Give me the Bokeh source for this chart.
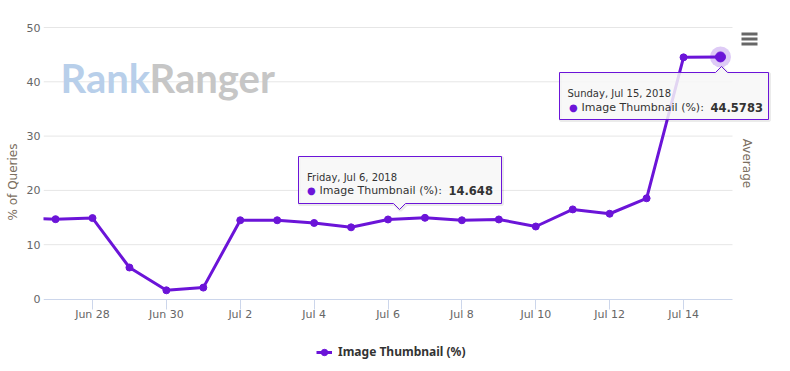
import math
import pandas as pd
from bokeh.plotting import figure
from bokeh.models import Range1d, FixedTicker, Label, Legend, LegendItem, ColumnDataSource
from bokeh.embed import file_html
from bokeh.resources import INLINE

# ---------------- data ----------------
dates = ["2018-06-26", "2018-06-27", "2018-06-28", "2018-06-29", "2018-06-30",
         "2018-07-01", "2018-07-02", "2018-07-03", "2018-07-04", "2018-07-05",
         "2018-07-06", "2018-07-07", "2018-07-08", "2018-07-09", "2018-07-10",
         "2018-07-11", "2018-07-12", "2018-07-13", "2018-07-14", "2018-07-15"]
values = [14.9, 14.7, 14.9, 5.8, 1.6, 2.1, 14.5, 14.5, 14.0, 13.2,
          14.648, 14.95, 14.5, 14.65, 13.35, 16.5, 15.7, 18.55, 44.5, 44.5783]
series_name = "Image Thumbnail (%)"
x_tick_labels = ["Jun 28", "Jun 30", "Jul 2", "Jul 4", "Jul 6", "Jul 8", "Jul 10", "Jul 12", "Jul 14"]
y_ticks = [0, 10, 20, 30, 40, 50]
y_title = "% of Queries"
right_title = "Average"
tooltip_dates = ["Friday, Jul 6, 2018", "Sunday, Jul 15, 2018"]
tooltip_values = ["14.648", "44.5783"]

# ---------------- styles / layout ----------------
COLOR = "#6b14d8"
FONT = "DejaVu Sans"
W, H = 782, 363

# picture pixel -> data helpers (layout only)
PX_PER_DAY = 36.94
PX_DAY0 = 92 - 2 * PX_PER_DAY
PX_PER_UNIT = 5.43
PY_ZERO = 298.5


def dx(px):
    return (px - PX_DAY0) / PX_PER_DAY


def dy(py):
    return (PY_ZERO - py) / PX_PER_UNIT


dts = pd.to_datetime(dates)
xs = list(range(len(dts)))
lbl = [f"{d:%b} {d.day}" for d in dts]
tick_pos = [i for i, s in enumerate(lbl) if s in x_tick_labels]
overrides = {i: lbl[i] for i in tick_pos}

plot_left_px, plot_right_px = 43, 732

p = figure(width=W, height=H, output_backend="svg", toolbar_location=None,
           x_range=Range1d(dx(plot_left_px), dx(W)), y_range=Range1d(dy(H), dy(0)),
           min_border_left=plot_left_px, min_border_right=0,
           min_border_top=0, min_border_bottom=0)
p.outline_line_color = None
p.background_fill_color = "white"
p.border_fill_color = "white"
p.xgrid.visible = False
p.ygrid.visible = False

# x axis, drawn at y = 0
xa = p.xaxis[0]
xa.fixed_location = 0
xa.ticker = FixedTicker(ticks=tick_pos)
xa.major_label_overrides = overrides
xa.bounds = (dx(plot_left_px), dx(plot_right_px))
xa.axis_line_color = "#ccd6eb"
xa.major_tick_line_color = "#ccd6eb"
xa.major_tick_out = 10
xa.major_tick_in = 0
xa.minor_tick_line_color = None
xa.major_label_standoff = -1
xa.major_label_text_font = FONT
xa.major_label_text_font_size = "11px"
xa.major_label_text_color = "#666666"

# y axis
ya = p.yaxis[0]
ya.ticker = FixedTicker(ticks=y_ticks)
ya.bounds = (y_ticks[0], y_ticks[-1])
ya.axis_line_color = None
ya.major_tick_line_color = None
ya.major_tick_out = 0
ya.major_tick_in = 0
ya.minor_tick_line_color = None
ya.minor_tick_out = 0
ya.major_label_standoff = 3
ya.major_label_text_font = FONT
ya.major_label_text_font_size = "11px"
ya.major_label_text_color = "#666666"
ya.axis_label = y_title
ya.axis_label_text_font = FONT
ya.axis_label_text_font_size = "12px"
ya.axis_label_text_font_style = "normal"
ya.axis_label_text_color = "#7b6e60"
ya.axis_label_standoff = 4

# gridlines (limited to plot area)
gy = y_ticks[1:]
p.segment(x0=[dx(plot_left_px)] * len(gy), x1=[dx(plot_right_px)] * len(gy), y0=gy, y1=gy,
          line_color="#e6e6e6", line_width=1)

# watermark
p.add_layout(Label(x=dx(60), y=dy(77), text="Rank", text_font="Lato", text_font_style="bold",
                   text_font_size="40px", text_color="#b8cfea", text_baseline="alphabetic"))
p.add_layout(Label(x=dx(149), y=dy(77), text="Ranger", text_font="Lato", text_font_style="bold",
                   text_font_size="40px", text_color="#c6c6c6", text_baseline="alphabetic"))

# series
src = ColumnDataSource(dict(x=xs, y=values))
line_r = p.line("x", "y", source=src, line_color=COLOR, line_width=3)
pts_r = p.scatter("x", "y", source=src, size=7, fill_color=COLOR, line_color=COLOR)

# hovered point (last) halo
p.scatter(x=[xs[-1]], y=[values[-1]], size=21, fill_color=COLOR, fill_alpha=0.22, line_color=None)
p.scatter(x=[xs[-1]], y=[values[-1]], size=10, fill_color=COLOR, line_color=COLOR)

# tooltips
tips = [
    dict(L=298, R=501, T=156, B=203, ptr=399, up=False, date_x=306.5, date_y=176.5,
         dot_x=306.5, line_y=189.5, txt_x=319, val_x=448),
    dict(L=559, R=768, T=72, B=119, ptr=721, up=True, date_x=567, date_y=92.5,
         dot_x=568.5, line_y=106.5, txt_x=581, val_x=710),
]
for k, t in enumerate(tips):
    L, R, T, B, c = t["L"], t["R"], t["T"], t["B"], t["ptr"]
    if t["up"]:
        poly = [(L, T), (c - 6, T), (c, T - 6), (c + 6, T), (R, T), (R, B), (L, B)]
    else:
        poly = [(L, T), (R, T), (R, B), (c + 6, B), (c, B + 6), (c - 6, B), (L, B)]
    p.patch([dx(a + 1) for a, b in poly], [dy(b + 1) for a, b in poly], fill_color=None,
            line_color="black", line_alpha=0.08, line_width=3)
    p.patch([dx(a) for a, b in poly], [dy(b) for a, b in poly], fill_color="#f7f7f7",
            fill_alpha=0.85, line_color=COLOR, line_width=1)
    p.add_layout(Label(x=dx(t["date_x"]), y=dy(t["date_y"]), text=tooltip_dates[k], text_font=FONT,
                       text_font_size="10px", text_color="#333333", text_baseline="alphabetic"))
    p.add_layout(Label(x=dx(t["dot_x"]), y=dy(t["line_y"]), text="\u25CF", text_font=FONT,
                       text_font_size="10px", text_color=COLOR, text_baseline="alphabetic"))
    p.add_layout(Label(x=dx(t["txt_x"]), y=dy(t["line_y"]), text=series_name + ":", text_font=FONT,
                       text_font_size="11px", text_color="#333333", text_baseline="alphabetic"))
    p.add_layout(Label(x=dx(t["val_x"]), y=dy(t["line_y"]), text=tooltip_values[k], text_font=FONT,
                       text_font_style="bold", text_font_size="11.5px", text_color="#333333",
                       text_baseline="alphabetic"))

# menu (hamburger) icon
bars = [33.5, 38.5, 43.5]
p.segment(x0=[dx(741)] * 3, x1=[dx(757)] * 3, y0=[dy(b) for b in bars], y1=[dy(b) for b in bars],
          line_color="#666666", line_width=3)

# right title
p.add_layout(Label(x=dx(746), y=dy(163), text=right_title, angle=-math.pi / 2, text_font=FONT,
                   text_font_size="12px", text_color="#7b6e60", text_align="center",
                   text_baseline="middle"))

# legend (inside the frame, below the axis)
legend = Legend(items=[LegendItem(label=series_name, renderers=[line_r, pts_r])],
                location=(316 - plot_left_px, H - 360),
                label_text_font="Noto Sans", label_text_font_style="bold", label_text_font_size="12px",
                label_text_color="#333333", glyph_width=16, glyph_height=16, label_height=16,
                label_standoff=6, padding=0, spacing=0, margin=0, border_line_color=None,
                background_fill_alpha=0)
p.add_layout(legend)

open("out.html", "w").write(file_html(p, INLINE))
